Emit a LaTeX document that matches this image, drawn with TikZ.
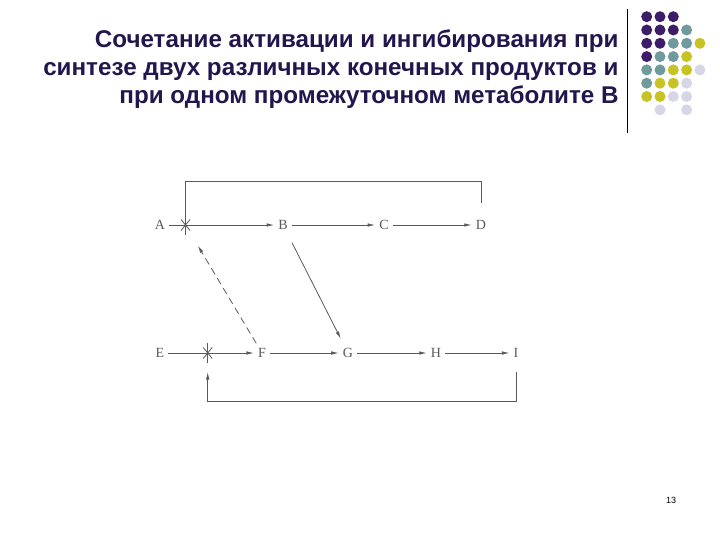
\documentclass[tikz,border=0pt]{standalone}
\usepackage{fontspec}
\setmainfont{Liberation Serif}
\newfontfamily\headfont{Liberation Sans}
\usetikzlibrary{arrows.meta}
\definecolor{headblue}{HTML}{22164C}
\definecolor{dotpurple}{HTML}{3D1C68}
\definecolor{dotteal}{HTML}{6F9B9C}
\definecolor{dotyellow}{HTML}{C8C324}
\definecolor{dotlilac}{HTML}{D6D6E6}
\definecolor{pathgray}{HTML}{5A5A5A}
\tikzset{
    met/.style={font=\fontsize{14}{14}\selectfont, text=pathgray, inner sep=4pt},
    flow/.style={draw=pathgray, line width=0.8pt, -{Latex[length=7.5pt,width=3.5pt]}},
    link/.style={draw=pathgray, line width=0.8pt},
}
\newcommand{\blockmark}[1]{
            \draw[link] ($(#1)+(0,-10)$) -- ($(#1)+(0,10)$);
            \draw[link] ($(#1)+(-4.5,-5.5)$) -- ($(#1)+(4.5,5.5)$);
            \draw[link] ($(#1)+(-4.5,5.5)$) -- ($(#1)+(4.5,-5.5)$);
}
\usetikzlibrary{calc}
\begin{document}
        \begin{tikzpicture}[x=1pt,y=-1pt]
            \useasboundingbox (0,0) rectangle (720,540);
            \node[anchor=east, align=right, text=headblue, font=\headfont\bfseries\fontsize{24.2}{28}\selectfont] (title) at (622,69)
                {Сочетание активации и ингибирования при\\синтезе двух различных конечных продуктов и\\при одном промежуточном метаболите В};
            \draw[line width=0.8pt] (627,9) -- (627,133);
            \foreach \col/\row/\shade in {
                    0/0/dotpurple,1/0/dotpurple,2/0/dotpurple,
                    0/1/dotpurple,1/1/dotpurple,2/1/dotpurple,3/1/dotteal,
                    0/2/dotpurple,1/2/dotpurple,2/2/dotteal,3/2/dotteal,4/2/dotyellow,
                    0/3/dotpurple,1/3/dotteal,2/3/dotteal,3/3/dotyellow,
                    0/4/dotteal,1/4/dotteal,2/4/dotyellow,3/4/dotyellow,4/4/dotlilac,
                    0/5/dotteal,1/5/dotyellow,2/5/dotyellow,3/5/dotlilac,
                    0/6/dotyellow,1/6/dotyellow,2/6/dotlilac,3/6/dotlilac,
                    1/7/dotlilac,3/7/dotlilac}
                \fill[\shade] (646.7+13.3*\col,16.7+13.3*\row) circle (5.5);
            \node[met] (A) at (160,225) {A};
            \node[met] (B) at (283,225) {B};
            \node[met] (C) at (384,225) {C};
            \node[met] (D) at (481,225) {D};
            \node[met] (E) at (160,353) {E};
            \node[met] (F) at (262,353) {F};
            \node[met] (G) at (348,353) {G};
            \node[met] (H) at (436,353) {H};
            \node[met] (I) at (516,353) {I};
            \coordinate (stopA) at (185.5,225);
            \coordinate (stopE) at (207.7,353);
            \coordinate (Dtop) at (481.7,203);
            \coordinate (Ibot) at (516,372);
            \coordinate (Eup) at (207.7,372);
            \draw[flow] (A) -- (B);
            \draw[flow] (B) -- (C);
            \draw[flow] (C) -- (D);
            \draw[flow] (E) -- (F);
            \draw[flow] (F) -- (G);
            \draw[flow] (G) -- (H);
            \draw[flow] (H) -- (I);
            \draw[link] (stopA) -- (185.5,181.7) -| (Dtop);
            \draw[flow] (Ibot) -- (516,401.7) -| (Eup);
            \draw[flow, dashed, dash pattern=on 7pt off 4.5pt, shorten <=1pt, shorten >=24pt] (F) -- (stopA);
            \draw[flow, shorten <=10pt, shorten >=6pt] (B) -- (G);
            \blockmark{stopA}
            \blockmark{stopE}
            \node[font=\headfont\fontsize{9}{9}\selectfont] (page) at (671,500) {13};
        \end{tikzpicture}
\end{document}
